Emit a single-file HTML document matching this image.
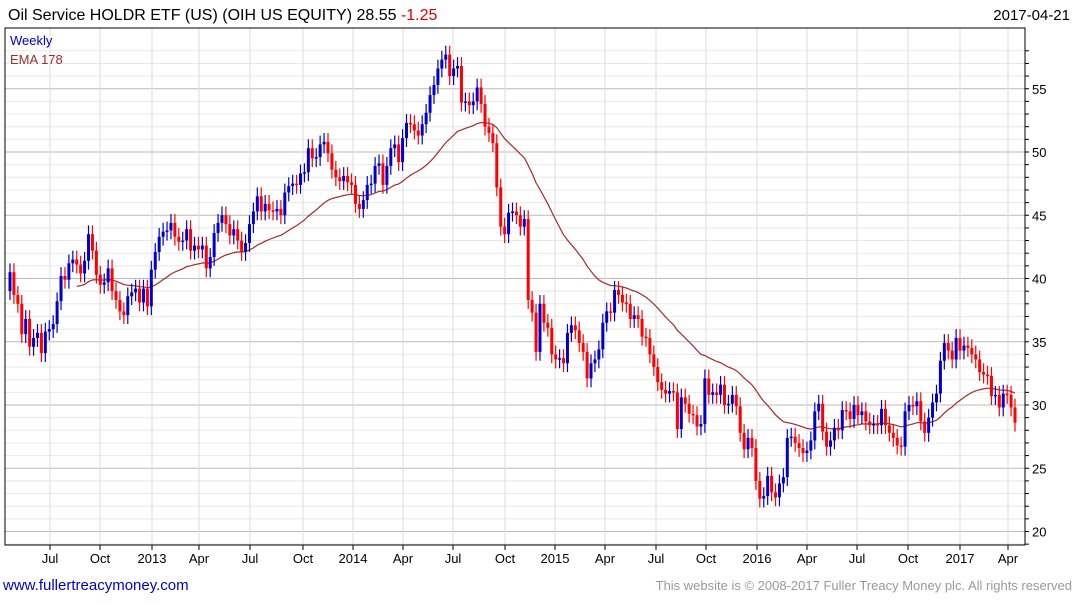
<!DOCTYPE html>
<html><head><meta charset="utf-8"><style>
body{margin:0;background:#fff;font-family:"Liberation Sans",sans-serif;}
svg text{font-family:"Liberation Sans",sans-serif;}
</style></head><body>
<svg id="chart" width="1075" height="600" viewBox="0 0 1075 600" xmlns="http://www.w3.org/2000/svg">
<rect x="0" y="0" width="1075" height="600" fill="#fff"/>
<text x="8" y="20" font-size="16" fill="#000">Oil Service HOLDR ETF (US) (OIH US EQUITY) 28.55 <tspan fill="#e00000">-1.25</tspan></text>
<text x="1070" y="20" font-size="15" fill="#000" text-anchor="end">2017-04-21</text>
<g id="grid"></g>
<g id="ema"></g>
<g id="candles"></g>
<rect x="5" y="28" width="1020" height="517" fill="none" stroke="#000" stroke-width="1"/>
<g id="axes"></g>
<text x="10" y="45" font-size="13" fill="#0000cc">Weekly</text>
<text x="10" y="64" font-size="13" fill="#a52a2a">EMA 178</text>
<text x="3" y="590" font-size="15" fill="#0000cc">www.fullertreacymoney.com</text>
<text x="1072" y="590" font-size="13" fill="#999" text-anchor="end">This website is © 2008-2017 Fuller Treacy Money plc. All rights reserved</text>
</svg>
<script>
const closes=[40.5,38.7,38,35.6,36.8,34.6,35.3,35.7,34.1,35.8,36,36.4,38.2,40.2,39.9,41.2,41.5,41.1,40.4,41.4,43.5,42.2,40.3,39.5,39.7,40.8,39,38.3,37.4,37.1,38.6,38.9,39.2,38.1,39.2,37.8,40.7,42.1,43.3,43.7,43.8,44.4,43.3,42.9,43,43.9,42.2,42.6,42.3,42.6,40.8,41.7,43.6,44.4,45,44.3,43.4,43.9,43,42.1,42.8,44.3,45.3,46.5,45.3,45.9,45.4,45.3,45.5,45,46.8,47.3,47.5,47.4,48.3,48.4,50.3,49.5,49.6,50.6,50.8,49.9,48.6,48,47.7,48.1,47.6,47.4,45.9,45.5,46.2,47.4,47.5,48.9,49.1,47.4,48.9,50.3,50.6,49.2,51.1,52.3,52.2,51.7,51.3,52.2,53.1,54.5,55.3,56.6,57.3,57.7,56,56.6,56.8,53.9,54,53.7,54,55.1,53.8,52,51.5,50.7,47.2,44.1,43.5,45.2,45.3,45,44.1,44.7,38.3,37.3,34.2,38,36.5,36.1,34,33.6,33.7,33.3,35.7,36.3,35.9,34.9,34.2,32.1,33.3,33.6,34.4,36.5,37.4,37.3,39.1,38.7,38.1,38,36.8,37.1,36.8,35.4,35.3,34,33,31.8,31.2,30.9,31.1,31,28.1,30.6,30.1,29.3,29.2,28.3,28.5,32.1,30.8,31,30.8,31.6,30,30.1,30.8,29.9,27.8,26.5,27.4,26.6,24,22.6,22.8,24.4,23.1,22.7,23.8,24.3,27.4,27.5,27,26.6,26.2,26.4,27.2,29.5,30.1,27.9,26.7,27.2,28.2,28,29.6,29.5,28.9,30,29.2,29.5,28.7,28.4,28.5,28.4,29.7,28.4,27.8,27.4,26.8,26.7,29.5,30,29.9,30.3,28.7,27.8,29,30.2,30.9,33.5,34.9,34.3,33.6,35.3,34.3,34.7,34.5,34,33.6,32.6,32.4,32.3,30.7,30.8,29.8,30.9,30.8,29.8,28.6];
const yTicks=[20,25,30,35,40,45,50,55];
const xTickLabels=["Jul","Oct","2013","Apr","Jul","Oct","2014","Apr","Jul","Oct","2015","Apr","Jul","Oct","2016","Apr","Jul","Oct","2017","Apr"];
const xTickPos=[50,100,152,199,250,303,353,403,453,505,555,605,656,706,757,807,857,908,960,1008];
const emaPeriod=36;
const emaSeed=41.5;
const NS="http://www.w3.org/2000/svg";
function y(v){return 405-(v-30)*12.65;}
const n=closes.length, x0=10, x1=1015, step=(x1-x0)/(n-1);
function x(i){return x0+i*step;}
function mk(tag,attrs,parent){const e=document.createElementNS(NS,tag);for(const k in attrs)e.setAttribute(k,attrs[k]);parent.appendChild(e);return e;}
const grid=document.getElementById('grid'),axes=document.getElementById('axes');
for(let v=19;v<=58;v++){
  const major=v%5===0;
  const l=mk('line',{x1:5,x2:1025,y1:y(v),y2:y(v),stroke:major?'#bbb':'#e8e8e8','stroke-width':1},grid);
  
  
}
xTickPos.forEach((px,i)=>{
  const l=mk('line',{x1:px,x2:px,y1:28,y2:545,stroke:'#ddd','stroke-width':1},grid);
  
  
  const t=mk('line',{x1:px,x2:px,y1:545,y2:550,stroke:'#000'},axes);
  
  
  const tx=mk('text',{x:px,y:563,'font-size':13,'text-anchor':'middle',fill:'#000'},axes);
  tx.textContent=xTickLabels[i];
  
  
});
yTicks.forEach(v=>{
  const tx=mk('text',{x:1032,y:y(v)+5,'font-size':13,fill:'#000'},axes);
  tx.textContent=v;
  
  
});
for(let v=19;v<=58;v++){
  const t=mk('line',{x1:1025,x2:1029,y1:y(v),y2:y(v),stroke:'#000'},axes);
  
  
}
const cg=document.getElementById('candles');
for(let i=0;i<n;i++){
  const o=i===0?closes[0]-1.5:closes[i-1], c=closes[i];
  const up=c>=o, col=up?'#0000cc':'#ff0000';
  const hi=Math.max(o,c)+0.7, lo=Math.min(o,c)-0.7;
  const w=mk('line',{x1:x(i),x2:x(i),y1:y(hi),y2:y(lo),stroke:col,'stroke-width':1.2},cg);
  
  
  const top=y(Math.max(o,c)), h=Math.max(1.5,Math.abs(y(o)-y(c)));
  const b=mk('rect',{x:x(i)-1.5,y:top,width:3,height:h,fill:col},cg);
  
  
}
let e=emaSeed;const a=2/(emaPeriod+1);let pts=[];
for(let i=0;i<n;i++){e=e+a*(closes[i]-e);if(i>=17)pts.push(x(i).toFixed(1)+','+y(e).toFixed(1));}
const pl=mk('polyline',{points:pts.join(' '),fill:'none',stroke:'#a52a2a','stroke-width':1.2},document.getElementById('ema'));


</script>
</body></html>
